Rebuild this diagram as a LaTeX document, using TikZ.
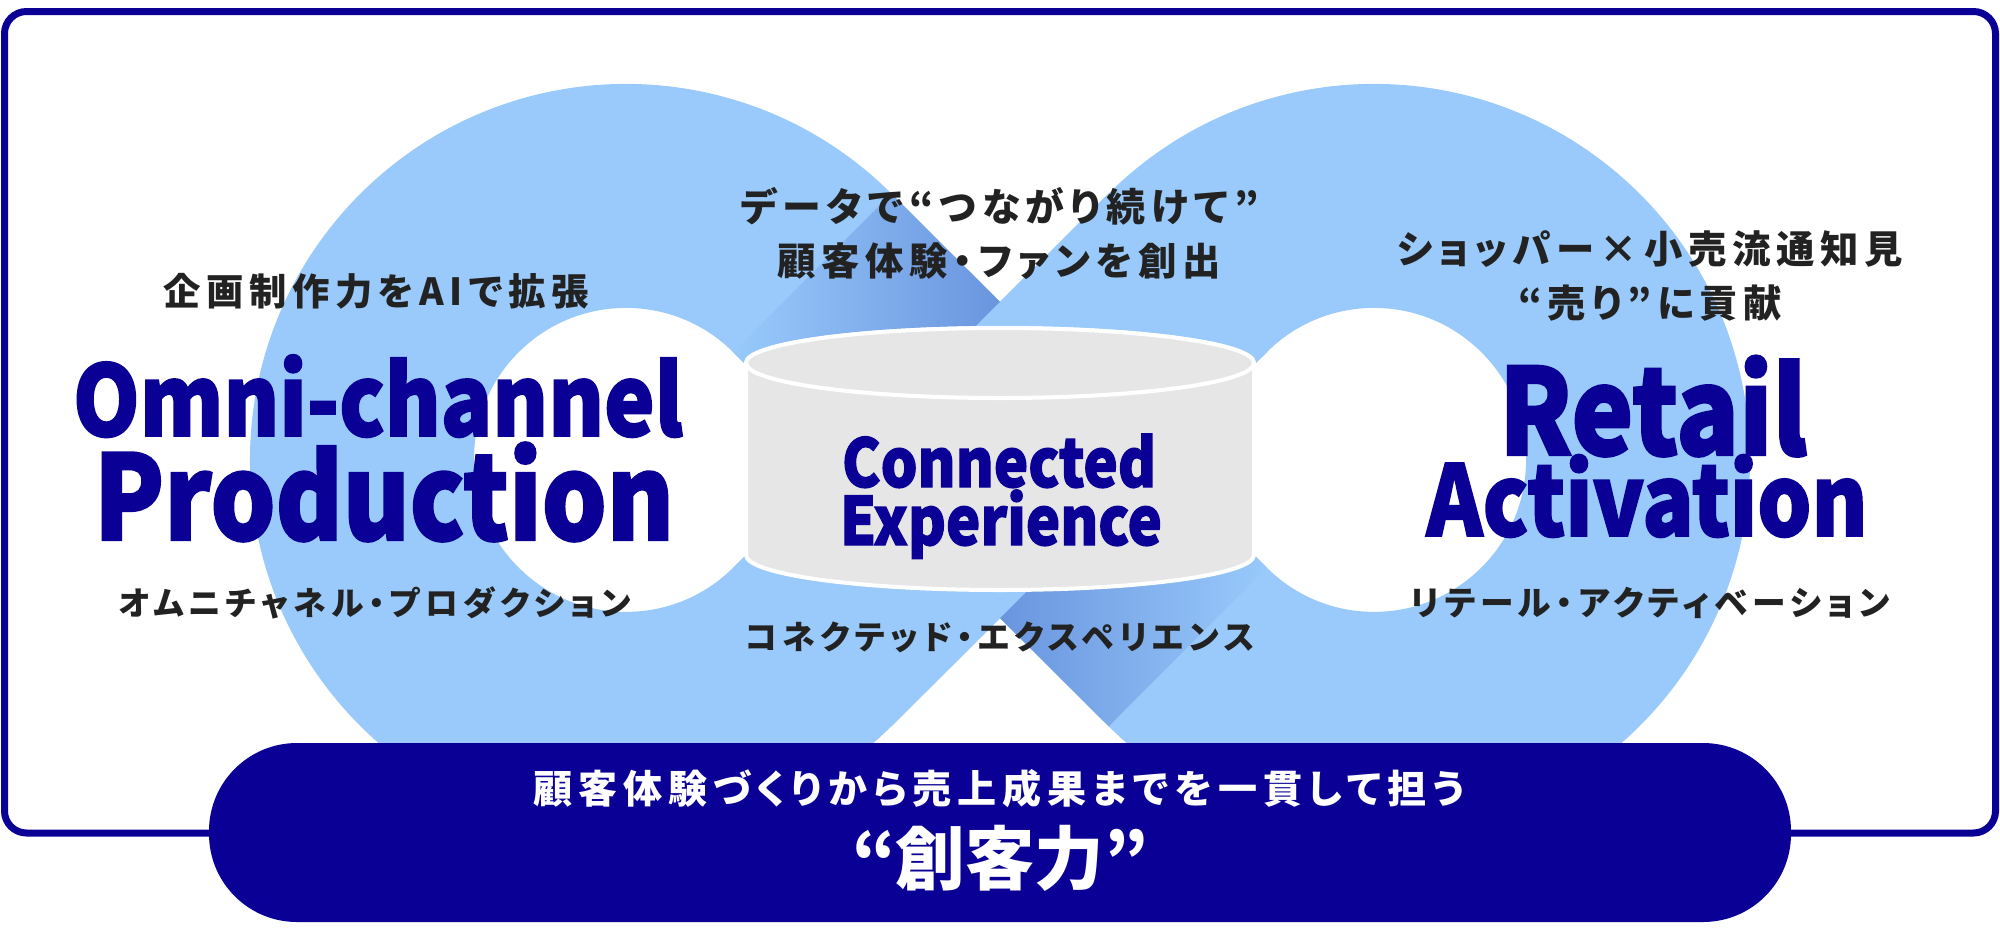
\documentclass[tikz,border=0pt]{standalone}
\usepackage{graphicx}
\usepackage{fontspec}
\newfontfamily\jpfont{Noto Sans CJK JP}[RawFeature={+palt}, LetterSpace=15]
\newfontfamily\jptight{Noto Sans CJK JP}[RawFeature={+palt}]
\newfontfamily\latfont{Noto Sans CJK JP}[BoldFeatures={FakeBold=2}]
\definecolor{navyblue}{RGB}{10,0,150}
\definecolor{bandblue}{RGB}{153,202,251}
\definecolor{shadeblue}{RGB}{104,148,222}
\definecolor{cylgray}{RGB}{230,230,230}
\definecolor{inkgray}{RGB}{34,34,34}
\newcommand\fitw[2]{\resizebox{#1}{!}{#2}}
\newcommand\fitt[2]{\scalebox{1}[1.15]{\resizebox{#1}{!}{#2}}}
\tikzset{
  jtext/.style={inner sep=0pt, text=inkgray, font=\jpfont\bfseries\fontsize{36pt}{40pt}\selectfont, anchor=center},
  btext/.style={inner sep=0pt, text=white, font=\jpfont\bfseries\fontsize{36pt}{40pt}\selectfont, anchor=center},
  bigtext/.style={inner sep=0pt, text=white, font=\jptight\bfseries\fontsize{72pt}{76pt}\selectfont, anchor=center},
  titletext/.style={inner sep=0pt, text=navyblue, font=\latfont\bfseries\fontsize{100pt}{100pt}\selectfont, anchor=base},
  band/.style={draw=bandblue, line width=224pt},
  frameline/.style={draw=navyblue, line width=7pt, rounded corners=22pt},
  cyl/.style={fill=cylgray, draw=white, line width=4pt},
}
\begin{document}
\begin{tikzpicture}[x=1pt,y=1pt]
\fill[white] (0,0) rectangle (2000,-930);
\useasboundingbox (0,0) rectangle (2000,-930);
% outer frame
\path[frameline] (4.5,-11.5) rectangle (1995.5,-833);
% key points of the infinity band
\coordinate (M) at (1000,-460);
\coordinate (T1) at (812.3,-272.9);
\coordinate (T2) at (812.3,-647.1);
\coordinate (U1) at (1187.7,-272.9);
\coordinate (U2) at (1187.7,-647.1);
% infinity band
\path[band] (M) -- (T1) arc[start angle=45.1, end angle=314.9, radius=264pt]
  -- (M) -- (U1) arc[start angle=134.9, end angle=-134.9, radius=264pt] -- cycle;
% shadow on the under-passing band
\begin{scope}[shift={(M)}, rotate=-44.9]
  \clip (-265,-112) rectangle (265,112);
  \shade[left color=bandblue, right color=shadeblue] (-266,-113) rectangle (-105,113);
  \shade[left color=shadeblue, right color=bandblue] (105,-113) rectangle (266,113);
\end{scope}
% over-passing band
\path[band] (T2) -- (U1);
% cylinder
\path[cyl] (746,-363) -- (746,-555) arc[start angle=180, end angle=360, x radius=254pt, y radius=35pt]
  -- (1254,-363) arc[start angle=0, end angle=180, x radius=254pt, y radius=35pt] -- cycle;
\path[cyl] (1000,-363) ellipse[x radius=254pt, y radius=35pt];
% titles
\node[titletext] (omni) at (378,-436) {\fitt{610pt}{Omni-channel}};
\node[titletext] (prod) at (384,-540) {\fitt{580pt}{Production}};
\node[titletext] (retail) at (1653,-455) {\fitt{308pt}{Retail}};
\node[titletext] (activ) at (1647,-536) {\fitt{441pt}{Activation}};
\node[titletext] (conn) at (999,-487) {\fitt{314pt}{Connected}};
\node[titletext] (exper) at (1001,-545) {\fitt{322pt}{Experience}};
% japanese labels
\node[jtext] (t1) at (376,-291) {\fitw{425pt}{企画制作力をAIで拡張}};
\node[jtext] (t2) at (1000,-206) {\fitw{518pt}{データで“つながり続けて”}};
\node[jtext] (t3) at (999,-261) {\fitw{444pt}{顧客体験・ファンを創出}};
\node[jtext] (t4) at (1650,-249) {\fitw{506pt}{ショッパー×小売流通知見}};
\node[jtext] (t5) at (1650,-303) {\fitw{264pt}{“売り”に貢献}};
\node[jtext] (t6) at (375,-603) {\fitw{512pt}{オムニチャネル・プロダクション}};
\node[jtext] (t7) at (1650,-603) {\fitw{479pt}{リテール・アクティベーション}};
\node[jtext] (t8) at (1000,-637) {\fitw{509pt}{コネクテッド・エクスペリエンス}};
% banner
\fill[navyblue, rounded corners=88pt] (209,-743) rectangle (1791,-922);
\node[btext] (b1) at (999,-789) {\fitw{931pt}{顧客体験づくりから売上成果までを一貫して担う}};
\node[bigtext] (b2) at (1000,-858) {\fitw{296pt}{“創客力”}};
\end{tikzpicture}
\end{document}
